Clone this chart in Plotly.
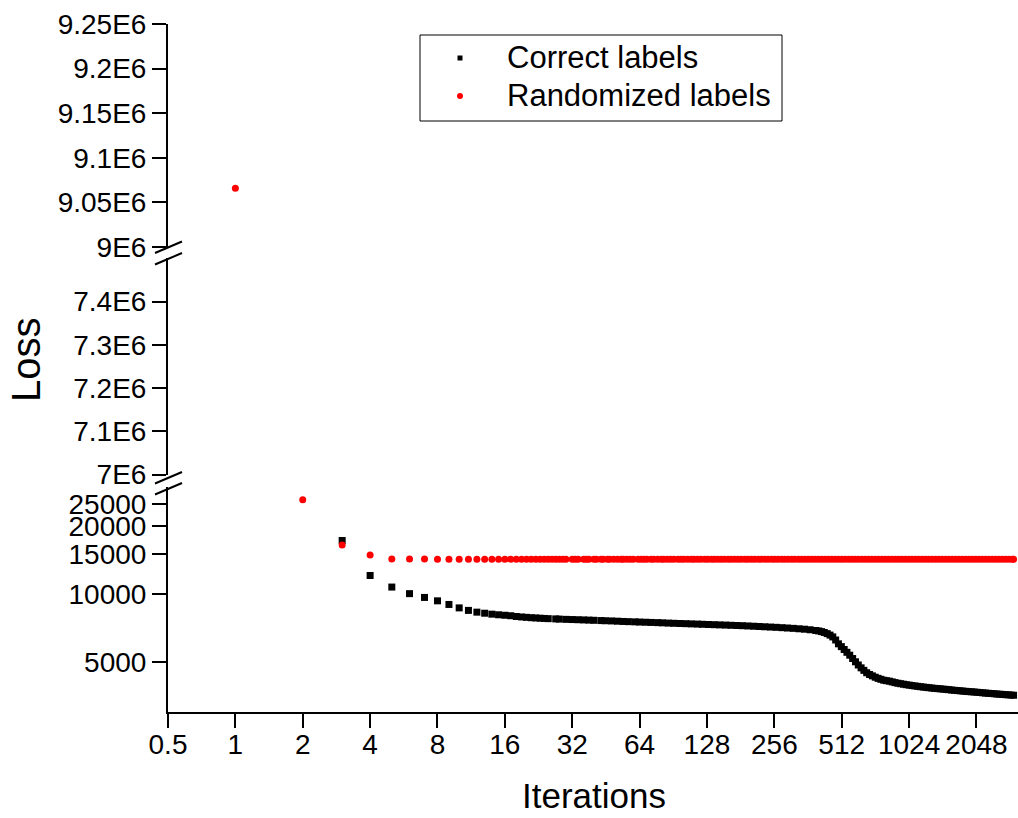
import plotly.graph_objects as go

# ---------------- data ----------------
# (iteration, loss) pairs, "Correct labels"
correct_points = [
    (3, 17300), (4, 12100), (5, 10750), (6, 10050), (7, 9670), (8, 9340), (9, 9000),
    (10, 8690), (11, 8470), (12, 8320), (13, 8230), (14, 8150), (15, 8100), (16, 8060),
    (17, 8020), (18, 7960), (19, 7920), (20, 7890), (21, 7860), (22, 7840), (23, 7820),
    (24, 7800), (25, 7785), (27, 7765), (28, 7750), (30, 7730), (32, 7715), (34, 7700),
    (36, 7685), (38, 7670), (40, 7655), (43, 7635), (45, 7620), (48, 7605), (51, 7585),
    (54, 7565), (57, 7550), (61, 7535), (64, 7520), (68, 7505), (72, 7490), (77, 7475),
    (81, 7460), (86, 7440), (91, 7425), (97, 7410), (103, 7395), (109, 7380), (116, 7365),
    (122, 7350), (130, 7335), (138, 7320), (146, 7305), (155, 7290), (164, 7275),
    (174, 7260), (184, 7245), (195, 7225), (207, 7205), (219, 7185), (232, 7165),
    (246, 7145), (261, 7125), (277, 7100), (293, 7075), (311, 7050), (330, 7020),
    (349, 6990), (370, 6950), (392, 6900), (404, 6865), (416, 6820), (428, 6760),
    (441, 6680), (454, 6580), (467, 6460), (481, 6260), (495, 6020), (510, 5850),
    (525, 5680), (540, 5520), (556, 5360), (573, 5180), (590, 5010), (607, 4850),
    (625, 4710), (643, 4590), (662, 4480), (682, 4400), (702, 4340), (723, 4280),
    (744, 4230), (766, 4190), (789, 4150), (812, 4130), (836, 4110), (861, 4080),
    (886, 4050), (912, 4025), (939, 4005), (967, 3985), (995, 3965), (1025, 3948),
    (1055, 3930), (1086, 3915), (1118, 3900), (1151, 3885), (1185, 3870), (1220, 3858),
    (1256, 3845), (1293, 3832), (1331, 3820), (1370, 3810), (1411, 3800), (1453, 3790),
    (1496, 3780), (1540, 3768), (1585, 3755), (1632, 3745), (1680, 3735), (1730, 3725),
    (1781, 3715), (1834, 3705), (1888, 3695), (1944, 3688), (2001, 3680), (2060, 3670),
    (2121, 3660), (2184, 3650), (2248, 3640), (2315, 3632), (2383, 3625), (2454, 3615),
    (2526, 3605), (2601, 3598), (2677, 3590), (2757, 3582), (2838, 3575), (2922, 3567),
    (3000, 3560),
]

# "Randomized labels": first point lies on the upper axis segment
random_top_points = [(1, 9.066e6)]
random_points = [
    (2, 26200), (3, 16510), (4, 14900), (5, 14310), (6, 14310), (7, 14310), (8, 14300),
    (9, 14300), (10, 14300), (11, 14300), (12, 14300), (13, 14300), (14, 14300),
    (15, 14300), (16, 14300), (17, 14300), (18, 14300), (19, 14300), (20, 14300),
    (21, 14300), (22, 14300), (23, 14300), (24, 14300), (25, 14300), (26, 14300),
    (27, 14300), (28, 14300), (29, 14300), (30, 14300), (32, 14300), (33, 14300),
    (34, 14300), (36, 14300), (37, 14300), (38, 14300), (40, 14300), (41, 14300),
    (43, 14300), (44, 14300), (46, 14300), (47, 14300), (49, 14300), (51, 14300),
    (53, 14300), (54, 14300), (56, 14300), (58, 14300), (60, 14300), (63, 14300),
    (65, 14300), (67, 14300), (69, 14300), (72, 14300), (74, 14300), (77, 14300),
    (80, 14300), (82, 14300), (85, 14300), (88, 14300), (91, 14300), (95, 14300),
    (98, 14300), (101, 14300), (105, 14300), (109, 14300), (112, 14300), (116, 14300),
    (120, 14300), (125, 14300), (129, 14300), (134, 14300), (138, 14300), (143, 14300),
    (148, 14300), (153, 14300), (159, 14300), (164, 14300), (170, 14300), (176, 14300),
    (182, 14300), (189, 14300), (195, 14300), (202, 14300), (209, 14300), (217, 14300),
    (224, 14300), (232, 14300), (240, 14300), (249, 14300), (257, 14300), (266, 14300),
    (276, 14300), (285, 14300), (295, 14300), (306, 14300), (316, 14300), (328, 14300),
    (339, 14300), (351, 14300), (363, 14300), (376, 14300), (389, 14300), (403, 14300),
    (417, 14300), (431, 14300), (446, 14300), (462, 14300), (478, 14300), (495, 14300),
    (512, 14300), (530, 14300), (549, 14300), (568, 14300), (588, 14300), (608, 14300),
    (630, 14300), (652, 14300), (675, 14300), (698, 14300), (723, 14300), (748, 14300),
    (774, 14300), (801, 14300), (829, 14300), (858, 14300), (888, 14300), (919, 14300),
    (952, 14300), (985, 14300), (1020, 14300), (1055, 14300), (1092, 14300),
    (1130, 14300), (1170, 14300), (1211, 14300), (1253, 14300), (1297, 14300),
    (1343, 14300), (1390, 14300), (1438, 14300), (1489, 14300), (1541, 14300),
    (1595, 14300), (1651, 14300), (1708, 14300), (1768, 14300), (1830, 14300),
    (1894, 14300), (1960, 14300), (2029, 14300), (2100, 14300), (2174, 14300),
    (2250, 14300), (2328, 14300), (2410, 14300), (2494, 14300), (2582, 14300),
    (2672, 14300), (2766, 14300), (2862, 14300), (2963, 14300), (3000, 14300),
]

x_ticks = [0.5, 1, 2, 4, 8, 16, 32, 64, 128, 256, 512, 1024, 2048]
x_tick_text = ["0.5", "1", "2", "4", "8", "16", "32", "64", "128", "256", "512", "1024", "2048"]
y_low_ticks = [5000, 10000, 15000, 20000, 25000]
y_low_text = ["5000", "10000", "15000", "20000", "25000"]
y_mid_ticks = [7.0e6, 7.1e6, 7.2e6, 7.3e6, 7.4e6]
y_mid_text = ["7E6", "7.1E6", "7.2E6", "7.3E6", "7.4E6"]
y_top_ticks = [9.0e6, 9.05e6, 9.1e6, 9.15e6, 9.2e6, 9.25e6]
y_top_text = ["9E6", "9.05E6", "9.1E6", "9.15E6", "9.2E6", "9.25E6"]
legend_names = ["Correct labels", "Randomized labels"]

correct_iter = [p[0] for p in correct_points]
correct_loss = [p[1] for p in correct_points]
random_iter = [p[0] for p in random_points]
random_loss = [p[1] for p in random_points]
random_iter_top = [p[0] for p in random_top_points]
random_loss_top = [p[1] for p in random_top_points]

# ---------------- layout geometry (pixels) ----------------
W, H = 1018, 818
L, R, T, B = 168, 1018, 24, 712


def px(xp):
    return (xp - L) / (R - L)


def py(yp):
    return (B - yp) / (B - T)


FONT = "Liberation Sans, Arial, sans-serif"
TICK_SIZE = 28
BLACK = "#000000"
RED = "#ff0000"

fig = go.Figure()

fig.add_trace(go.Scatter(
    x=correct_iter, y=correct_loss, mode="markers", name=legend_names[0], showlegend=False,
    marker=dict(symbol="square", size=7, color=BLACK, line=dict(width=0)),
    xaxis="x", yaxis="y"))
fig.add_trace(go.Scatter(
    x=random_iter, y=random_loss, mode="markers", name=legend_names[1], showlegend=False,
    marker=dict(symbol="circle", size=7, color=RED, line=dict(width=0)),
    xaxis="x", yaxis="y"))
fig.add_trace(go.Scatter(
    x=random_iter_top, y=random_loss_top, mode="markers", name=legend_names[1],
    showlegend=False,
    marker=dict(symbol="circle", size=7, color=RED, line=dict(width=0)),
    xaxis="x", yaxis="y3"))
# empty trace so the middle axis segment is drawn
fig.add_trace(go.Scatter(x=[None], y=[None], mode="markers", showlegend=False,
                         hoverinfo="skip", xaxis="x", yaxis="y2"))

axis_common = dict(showline=True, linecolor=BLACK, linewidth=2, ticks="outside",
                   ticklen=14, tickwidth=2, tickcolor=BLACK, showgrid=False,
                   zeroline=False, tickfont=dict(family=FONT, size=TICK_SIZE, color=BLACK))

fig.update_layout(
    width=W, height=H,
    margin=dict(l=L, r=W - R, t=T, b=H - B, pad=0),
    paper_bgcolor="white", plot_bgcolor="white",
    font=dict(family=FONT, color=BLACK),
    xaxis=dict(type="log", range=[-0.30103, 3.4969], tickvals=x_ticks, ticktext=x_tick_text,
               anchor="y", ticklabelstandoff=-8, **axis_common),
    yaxis=dict(type="log", domain=[0, py(486.6)], range=[3.47712, 4.47712],
               tickvals=y_low_ticks, ticktext=y_low_text, anchor="x",
               ticklabelstandoff=0, **axis_common),
    yaxis2=dict(domain=[py(474.5), py(258.3)], range=[7.0e6, 7.5e6],
                tickvals=y_mid_ticks, ticktext=y_mid_text, anchor="x",
                ticklabelstandoff=0, **axis_common),
    yaxis3=dict(domain=[py(247), 1.0], range=[9.0e6, 9.25e6],
                tickvals=y_top_ticks, ticktext=y_top_text, anchor="x",
                ticklabelstandoff=0, **axis_common),
    showlegend=False,
)

# ---------------- legend (box, symbols, labels) ----------------
fig.add_shape(type="rect", xref="paper", yref="paper",
              x0=px(420), x1=px(782), y0=py(121), y1=py(35),
              line=dict(color=BLACK, width=1), fillcolor="white", layer="above")
fig.add_shape(type="rect", xref="paper", yref="paper",
              x0=px(457.5), x1=px(462.5), y0=py(60.5), y1=py(55.5),
              line=dict(width=0), fillcolor=BLACK, layer="above")
fig.add_shape(type="circle", xref="paper", yref="paper",
              x0=px(457), x1=px(463), y0=py(99), y1=py(93),
              line=dict(width=0), fillcolor=RED, layer="above")
for name, yc in zip(legend_names, [58, 96]):
    fig.add_annotation(text=name, xref="paper", yref="paper", x=px(505), y=py(yc),
                       xanchor="left", yanchor="middle", showarrow=False,
                       font=dict(family=FONT, size=31, color=BLACK))

# axis titles
fig.add_annotation(text="Iterations", xref="paper", yref="paper", x=px(594), y=py(817),
                   xanchor="center", yanchor="bottom", showarrow=False,
                   font=dict(family=FONT, size=35, color=BLACK))
fig.add_annotation(text="Loss", xref="paper", yref="paper", x=px(26), y=py(360),
                   xanchor="center", yanchor="middle", showarrow=False, textangle=-90,
                   font=dict(family=FONT, size=40, color=BLACK))

# axis-break marks
for yb in [247.5, 259, 478, 489]:
    fig.add_shape(type="line", xref="paper", yref="paper",
                  x0=px(L - 13), y0=py(yb + 5.5), x1=px(L + 14), y1=py(yb - 6),
                  line=dict(color=BLACK, width=2))

fig.write_html("out.html",
               config={"displayModeBar": False},
               post_script="document.body.style.margin='0px';"
                           "document.body.style.overflow='hidden';")
